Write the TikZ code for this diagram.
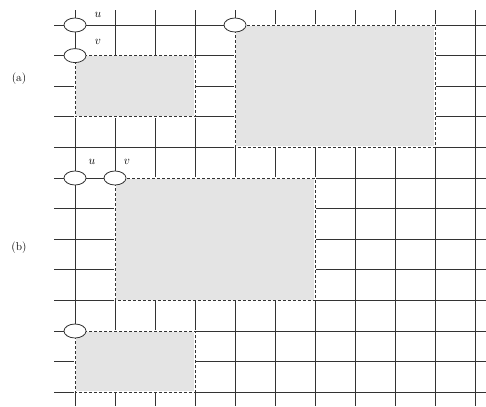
\documentclass[tikz,border=0pt]{standalone}
\usepackage{tikz}
\usetikzlibrary{shapes.geometric}
\definecolor{gridc}{HTML}{333333}
\definecolor{obstbg}{HTML}{E4E4E4}
\tikzset{
  gl/.style={gridc,line width=0.8pt},
  obst/.style={fill=obstbg,draw=white,line width=1.8pt},
  obstln/.style={gridc,line width=0.8pt,dash pattern=on 3pt off 2pt},
  pin/.style={ellipse,draw=gridc,fill=white,line width=0.8pt,minimum width=22pt,minimum height=14pt,inner sep=0pt},
  lbl/.style={font=\fontsize{11.5}{13}\selectfont,inner sep=0pt}
}
\begin{document}
\begin{tikzpicture}[x=40pt,y=-30.6pt]
\useasboundingbox (-1.875,-0.817) rectangle (10.275,12.451);
% routing grid
\foreach \j in {0,...,12} \draw[gl] (-0.525,\j)--(10.275,\j);
\foreach \i in {0,...,10} \draw[gl] (\i,-0.49)--(\i,12.451);
% blocked areas
\foreach \xa/\ya/\xb/\yb in {0/1/3/3, 4/0/9/4, 1/5/6/9, 0/10/3/12} {
  \filldraw[obst] (\xa,\ya) rectangle (\xb,\yb);
  \draw[obstln] (\xa,\ya) rectangle (\xb,\yb);
}
% pins
\node[pin] (au) at (0,0) {};
\node[pin] (av) at (0,1) {};
\node[pin] (aw) at (4,0) {};
\node[pin] (bu) at (0,5) {};
\node[pin] (bv) at (1,5) {};
\node[pin] (bw) at (0,10) {};
\node[lbl] (au-l) at (0.575,-0.33) {$u$};
\node[lbl] (av-l) at (0.575,0.556) {$v$};
\node[lbl] (bu-l) at (0.425,4.477) {$u$};
\node[lbl] (bv-l) at (1.3,4.477) {$v$};
% part labels
\node[lbl] (pa) at (-1.4,1.765) {(a)};
\node[lbl] (pb) at (-1.4,7.29) {(b)};
\end{tikzpicture}
\end{document}
